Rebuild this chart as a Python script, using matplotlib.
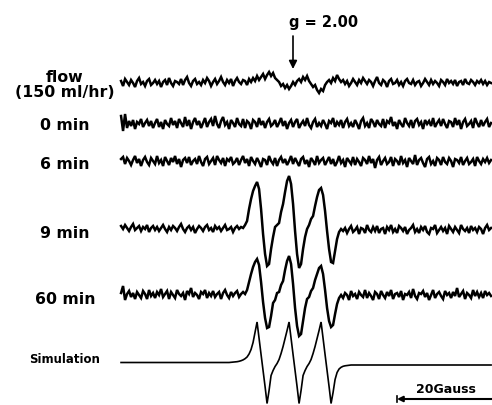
import matplotlib.pyplot as plt
import numpy as np

# EPR spectra, amplitudes in px (positive = up), sampled on a uniform field grid
labels = ['flow\n(150 ml/hr)', '0 min', '6 min', '9 min', '60 min', 'Simulation']

flow = [2, -3, 4, 1, -2, 3, 0, -4, 2, 5, -1, 1, -3, 2, 4, -2, 0, 3, -1, 2,
        -4, 1, 3, -2, 5, 0, -3, 2, 1, -1, 4, -2, 3, 6, 0, -3, 2, 4, -1, 1,
        -2, 3, 0, 5, 2, -3, 1, 4, -1, 2, 6, 1, -2, 3, 0, 4, -3, 2, 5, 1,
        -1, 3, 2, -2, 4, 1, 5, 2, 7, 3, 6, 9, 4, 8, 11, 7, 10, 5, 3, 1,
        -3, -1, -5, -2, -6, -3, 1, -2, 2, 4, 1, 6, 3, 7, 2, -1, -4, -2, -7, -10,
        -6, -8, -2, 1, 3, 0, 5, 2, 8, 4, 1, 3, -1, 2, -3, 0, 4, 1, -2, 3,
        0, 5, 2, -1, 3, 1, -3, 2, 6, 0, -2, 3, 1, -4, 2, 4, -1, 0, 3, -2,
        1, -3, 2, 4, 0, -1, 3, -2, 1, 2, -3, 0, 4, 1, -2, 3, -1, 2, 0, -3,
        3, 1, -2, 4, 0, 2, -1, 3, -3, 1, 2, -2, 4, 0, -1, 3, 1, -2, 2, 0,
        3, -1, 2, -2, 1, 0]

min0 = [8, -7, 10, -4, 3, -2, 4, -5, 2, 0, 5, -3, 1, 4, -2, 3, -4, 1, 5, -3,
        2, -5, 4, 0, -2, 6, -1, 3, -4, 5, 1, -3, 7, -2, 4, -5, 2, 6, -1, 3,
        -4, 1, 6, -3, 2, 5, -2, 8, 0, -4, 3, 7, -1, 2, -5, 4, 1, -3, 6, 0,
        -2, 5, -4, 3, 1, -5, 4, 2, -3, 6, -1, 3, -4, 2, 5, -2, 0, 4, -3, 1,
        6, -2, 3, -5, 1, 4, -3, 2, 5, -4, 0, 3, -2, 6, -1, -4, 2, 5, -3, 1,
        -2, 4, 0, -5, 3, 1, 6, -3, 2, -1, 4, -4, 2, 5, -2, 1, -3, 4, 0, -5,
        3, 6, -2, 1, -4, 5, 2, -3, 4, 0, -2, 5, -4, 3, 1, 7, -2, 2, -5, 4,
        0, -3, 6, 1, -2, 4, -4, 3, 5, -1, 2, -5, 4, 0, 3, -2, 6, -3, 1, 4,
        -2, 5, 0, -4, 3, 2, -3, 6, -1, 4, -5, 2, 5, -2, 0, 3, -4, 6, 1, -3,
        4, -2, 2, 5, -3, 1]

min6 = [3, 5, -2, 4, 1, -3, 2, 6, -1, 3, -4, 2, 5, 0, -3, 4, 1, -2, 6, -1,
        2, -4, 5, 1, -3, 4, 0, 6, -2, 3, -5, 2, 4, -1, 5, -3, 1, 3, -2, 6,
        0, -4, 3, 5, -2, 1, 4, -3, 6, 2, -1, 4, -4, 3, 1, 5, -2, 0, 4, -3,
        2, 6, -1, 3, -4, 5, 1, -2, 4, 0, -5, 3, 2, -3, 6, 1, -2, 4, -4, 2,
        5, -1, 3, -3, 1, 6, -2, 4, 0, -4, 3, 5, -2, 2, -5, 4, 1, -3, 6, -1,
        2, 4, -3, 1, 5, -2, 3, -4, 0, 6, -1, 2, -5, 4, 1, -2, 5, -3, 3, 0,
        -4, 4, 2, -2, 6, -1, 3, -6, 2, 5, -3, 1, 4, -2, 0, 5, -4, 3, 1, -3,
        6, -1, 2, -5, 4, 1, -2, 7, -3, 2, 4, -1, -5, 3, 5, -2, 1, -4, 4, 2,
        -3, 5, 0, -2, 4, 1, -5, 3, 2, -1, 5, -3, 1, 4, -2, 0, 3, -4, 5, 1,
        -2, 3, 0, 4, -1, 2]

min9 = [4, 1, 5, 2, -1, 3, 6, 0, 2, 4, -1, 3, 1, 5, -2, 2, 4, 0, 3, -1,
        2, 5, 1, -2, 3, 0, 4, 2, -1, 3, 6, 1, -2, 2, 4, 0, 3, -3, 1, 4,
        2, -1, 3, 5, 0, 2, -2, 4, 1, 3, -1, 2, 5, 0, 1, 3, -2, 2, 4, 1,
        3, 2,
        5, 9, 21, 31, 39, 44, 48, 41, 21, -4, -24, -36, -34, -19, -7, 3, 5, 7, 18, 26,
        38, 49, 54, 46, 26, -1, -24, -38, -34, -19, -7, 1, 5, 11, 14, 24, 33, 40, 42, 35,
        19, -1, -19, -32, -33, -21, -9, -2, 1,
        -1, 2, -3, 1, 4, -2, 0, 3, -4, 2, 1, -3, 5, 0, -2, 3, -1, 4, -3, 1,
        2, -4, 3, 0, 5, -2, 1, -3, 4, 2, -1, 3, -4, 0, 2, 5, -2, 1, -3, 3,
        0, 4, -2, -4, 2, 1, 5, -3, 0, 3, -1, 2, -4, 4, 1, -2, 3, 0, -3, 5,
        1, -1, 2, -3, 4, 0, 2, -2, 3, 1, -4, 2, 5, 0, 2]

min60 = [3, 10, -4, 2, 5, -1, 3, -3, 4, 1, -2, 5, 2, -3, 6, 0, 3, -2, 4, 1,
         7, -1, 2, 5, -3, 4, 1, -2, 6, 2, 0, 3, -4, 5, 2, 8, -1, 3, 1, -3,
         4, 2, 6, -2, 3, 0, 5, -1, 2, 4, -3, 3, 6, 1, -2, 4, 0, 3, 5, -1,
         2, 4,
         2, 6, 14, 22, 29, 34, 37, 31, 14, -6, -22, -32, -31, -20, -7, -4, 3, 4, 11, 15,
         26, 35, 40, 32, 12, -12, -30, -40, -38, -25, -12, -3, -1, 5, 8, 16, 22, 28, 30, 22,
         6, -12, -25, -31, -29, -18, -8, -2, 1,
         -2, 3, 1, -4, 5, 0, 2, -3, 4, 1, -1, 6, -2, 3, 0, -4, 4, 2, -3, 5,
         1, -2, 4, 0, 6, -3, 2, 3, -1, 5, -4, 2, 1, 4, -2, 7, 0, -3, 3, 2,
         5, -1, 3, -4, 1, 6, -2, 2, 4, 0, -3, 5, 1, 3, -2, 4, 0, 8, -1, 2,
         5, -3, 3, 1, -2, 6, 0, 4, -1, 3, -2, 5, 1, 3, 0]

sim = ([0.0] * 55 +
       [0.2, 0.3, 0.5, 0.8, 1.2, 1.8, 2.6, 3.8, 5.5, 8.5, 13, 20, 30, 40.5,
        24, 8, -8, -24, -41, -28, -13, -8, -4, -1, 3, 9, 16, 24, 32, 40.5,
        24, 8, -8, -24, -41, -28, -13, -8, -4, -1, 3, 9, 16, 24, 32, 40.5,
        24, 8, -8, -24, -41, -30, -17, -10, -6.5, -4.8, -3.8, -3.3, -3.0, -2.8] +
       [-2.5] * 71)

series = [flow, min0, min6, min9, min60, sim]
baselines = [322, 281, 243, 175, 109, 42.5]
label_y = [321, 280, 241, 172, 106, 46]

px_per_gauss = 4.75
g_px = 293

fig = plt.figure(figsize=(4.92, 4.06), dpi=100)
ax = fig.add_axes([0, 0, 1, 1])
ax.set_xlim(-g_px / px_per_gauss, (492 - g_px) / px_per_gauss)
ax.set_ylim(0, 406)
ax.axis('off')

for s, b in zip(series, baselines):
    field = np.linspace(-36.2, 41.7, len(s))
    lw = 1.2 if s is sim else 1.8
    ax.plot(field, b + np.array(s, dtype=float), color='black', lw=lw,
            solid_joinstyle='miter')

lx = (65 - g_px) / px_per_gauss
for lab, y in zip(labels, label_y):
    fs = 8.5 if lab == 'Simulation' else 11.3
    ax.text(lx, y, lab, ha='center', va='center', fontsize=fs,
            fontweight='bold', family='DejaVu Sans', linespacing=1.05)

# g marker
ax.text(6.5, 384, 'g = 2.00', ha='center', va='center', fontsize=10.5,
        fontweight='bold', family='DejaVu Sans')
ax.annotate('', xy=(0, 336), xytext=(0, 369),
            arrowprops=dict(arrowstyle='-|>', color='black', lw=1.2,
                            mutation_scale=12, shrinkA=0, shrinkB=0))

# scale bar
ax.annotate('', xy=(21.9, 6), xytext=(43, 6),
            arrowprops=dict(arrowstyle='-|>', color='black', lw=1.5,
                            mutation_scale=8, shrinkA=0, shrinkB=0))
ax.plot([21.9, 21.9], [3, 9], color='black', lw=1.2)
ax.text(32.2, 16, '20Gauss', ha='center', va='center', fontsize=9,
        fontweight='bold', family='DejaVu Sans')

fig.savefig('out.png', dpi=100)
